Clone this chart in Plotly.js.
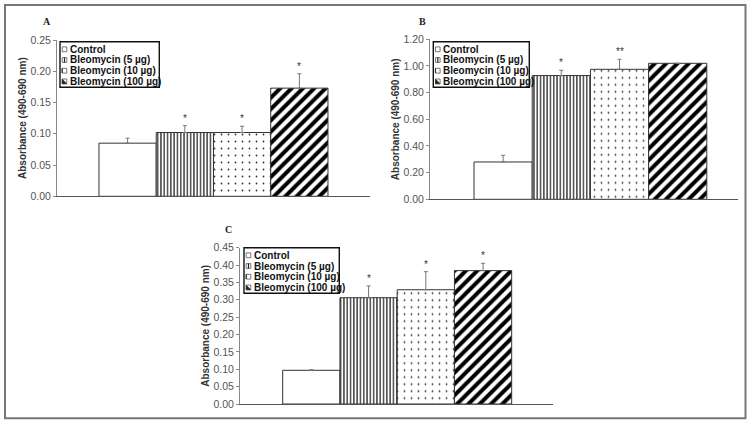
<!DOCTYPE html>
<html><head><meta charset="utf-8">
<script src="https://cdn.plot.ly/plotly-3.0.1.min.js"></script>
<style>html,body{margin:0;padding:0;background:#fff}</style>
</head><body><div id="chart" style="width:750px;height:425px"></div>
<script>
// ---- data ----
const seriesNames = ['Control', 'Bleomycin (5 µg)', 'Bleomycin (10 µg)', 'Bleomycin (100 µg)'];
const panelLabels = ['A', 'B', 'C'];
const yTitle = 'Absorbance (490-690 nm)';

const valuesA = [0.085, 0.102, 0.102, 0.173];
const errorsA = [0.008, 0.011, 0.010, 0.023];
const starsA  = ['', '*', '*', '*'];
const ticksA  = [0.00, 0.05, 0.10, 0.15, 0.20, 0.25];

const valuesB = [0.280, 0.928, 0.975, 1.020];
const errorsB = [0.050, 0.040, 0.075, 0.000];
const starsB  = ['', '*', '**', ''];
const ticksB  = [0.00, 0.20, 0.40, 0.60, 0.80, 1.00, 1.20];

const valuesC = [0.097, 0.306, 0.329, 0.384];
const errorsC = [0.002, 0.034, 0.052, 0.021];
const starsC  = ['', '*', '*', '*'];
const ticksC  = [0.00, 0.05, 0.10, 0.15, 0.20, 0.25, 0.30, 0.35, 0.40, 0.45];

// ---- layout helpers ----
const W = 750, H = 425;
const px = x => x / W;
const py = y => 1 - y / H;

const patterns = [
  {shape: ''},
  {shape: '|', size: 3.3, solidity: 0.33, fgcolor: '#000', bgcolor: '#fff', fillmode: 'replace'},
  {shape: '.', size: 7, solidity: 0.05, fgcolor: '#333', bgcolor: '#fff', fillmode: 'replace'},
  {shape: '/', size: 8, solidity: 0.5, fgcolor: '#000', bgcolor: '#fff', fillmode: 'replace'}
];

const panels = [
  {sfx: '',  vals: valuesA, errs: errorsA, stars: starsA, ticks: ticksA, yr: [0, 0.25],
   xd: [57, 370], yd: [196.3, 40], xr: [-1.233, 4.234], legend: [60, 41.7, 159.3, 87.3], lab: [47, 21]},
  {sfx: '2', vals: valuesB, errs: errorsB, stars: starsB, ticks: ticksB, yr: [0, 1.2],
   xd: [430, 738.3], yd: [199.3, 39.3], xr: [-1.256, 4.041], legend: [433.3, 41.7, 529.3, 87.3], lab: [422, 21]},
  {sfx: '3', vals: valuesC, errs: errorsC, stars: starsC, ticks: ticksC, yr: [0, 0.45],
   xd: [240, 553.3], yd: [404, 247.7], xr: [-1.246, 4.227], legend: [244, 247.7, 339.3, 293.3], lab: [228, 229]}
];

const traces = [];
const shapes = [];
const annotations = [];
const layout = {
  width: W, height: H, margin: {l: 0, r: 0, t: 0, b: 0},
  paper_bgcolor: '#fff', plot_bgcolor: 'rgba(0,0,0,0)',
  barmode: 'overlay', showlegend: false,
  font: {family: 'Arial, "Liberation Sans", sans-serif', color: '#444'}
};

panels.forEach((p, pi) => {
  const xa = 'xaxis' + p.sfx, ya = 'yaxis' + p.sfx;
  const xref = 'x' + p.sfx, yref = 'y' + p.sfx;
  layout[xa] = {
    domain: [px(p.xd[0]), px(p.xd[1])], range: p.xr, anchor: yref,
    type: 'category', categoryorder: 'array', categoryarray: seriesNames,
    showticklabels: false, ticks: '', showgrid: false, zeroline: false,
    showline: true, linecolor: '#555', linewidth: 1, automargin: false, fixedrange: true
  };
  layout[ya] = {
    domain: [py(p.yd[0]), py(p.yd[1])], range: p.yr, anchor: xref,
    tickvals: p.ticks, tickformat: '.2f', ticks: 'outside', ticklen: 3, tickcolor: '#888', tickwidth: 1,
    tickfont: {size: 10.5, color: '#555', family: 'Arial, "Liberation Sans", sans-serif'},
    showgrid: false, zeroline: false, showline: true, linecolor: '#888', linewidth: 1,
    automargin: false, fixedrange: true,
    title: {text: yTitle, standoff: 1, font: {size: 10, color: '#333', family: 'Arial, "Liberation Sans", sans-serif', weight: 'bold'}}
  };
  seriesNames.forEach((name, i) => {
    traces.push({
      type: 'bar', x: [name], y: [p.vals[i]], width: [1], xaxis: xref, yaxis: yref, name: name,
      marker: {color: '#fff', line: {color: '#333', width: 1}, pattern: patterns[i]},
      error_y: {type: 'data', symmetric: false, array: [p.errs[i]], arrayminus: [0],
                color: '#777', thickness: 1, width: 2},
      hoverinfo: 'skip'
    });
    if (p.stars[i]) {
      annotations.push({xref: xref, yref: yref, x: name, y: p.vals[i] + p.errs[i],
        yanchor: 'bottom', yshift: 0, showarrow: false, text: p.stars[i],
        font: {size: 10, color: '#333'}});
    }
  });
  // panel letter
  annotations.push({xref: 'paper', yref: 'paper', x: px(p.lab[0]), y: py(p.lab[1]),
    xanchor: 'center', yanchor: 'middle', showarrow: false, text: panelLabels[pi],
    font: {size: 10, color: '#222', family: '"Liberation Serif", "Times New Roman", serif', weight: 'bold'}});
  // legend box
  const [lx0, ly0, lx1, ly1] = p.legend;
  shapes.push({type: 'rect', xref: 'paper', yref: 'paper', x0: px(lx0), x1: px(lx1), y0: py(ly1), y1: py(ly0),
    line: {color: '#111', width: 1.4}, fillcolor: '#fff', layer: 'above'});
  seriesNames.forEach((name, i) => {
    const cy = ly0 + 7.6 + i * 10.7;
    const sx0 = lx0 + 2.2, sx1 = lx0 + 6.8, sy0 = cy - 2.4, sy1 = cy + 2.4;
    shapes.push({type: 'rect', xref: 'paper', yref: 'paper', x0: px(sx0), x1: px(sx1), y0: py(sy1), y1: py(sy0),
      line: {color: '#555', width: 0.8}, fillcolor: '#fff', layer: 'above'});
    const shp = patterns[i].shape;
    if (shp === '|') {
      shapes.push({type: 'line', xref: 'paper', yref: 'paper', x0: px((sx0 + sx1) / 2), x1: px((sx0 + sx1) / 2),
        y0: py(sy1), y1: py(sy0), line: {color: '#222', width: 1.2}, layer: 'above'});
    } else if (shp === '/') {
      shapes.push({type: 'path', xref: 'paper', yref: 'paper',
        path: `M ${px(sx0)} ${py(sy0)} L ${px(sx1)} ${py(sy1)} L ${px(sx0)} ${py(sy1)} Z`,
        fillcolor: '#222', line: {color: '#222', width: 0.5}, layer: 'above'});
    } else if (shp === '.') {
      shapes.push({type: 'line', xref: 'paper', yref: 'paper', x0: px(sx0), x1: px(sx0),
        y0: py(sy1), y1: py(sy0), line: {color: '#333', width: 1.2}, layer: 'above'});
    }
    annotations.push({xref: 'paper', yref: 'paper', x: px(lx0 + 7.5), y: py(cy), xanchor: 'left', yanchor: 'middle',
      showarrow: false, text: name,
      font: {size: 10, color: '#111', family: 'Arial, "Liberation Sans", sans-serif', weight: 'bold'}});
  });
});

// outer frame
shapes.push({type: 'rect', xref: 'paper', yref: 'paper', x0: px(5), x1: px(745.5), y0: py(418.3), y1: py(5),
  line: {color: '#777', width: 2}, fillcolor: 'rgba(0,0,0,0)', layer: 'below'});

layout.shapes = shapes;
layout.annotations = annotations;
Plotly.newPlot('chart', traces, layout, {displayModeBar: false, staticPlot: true});
</script></body></html>
